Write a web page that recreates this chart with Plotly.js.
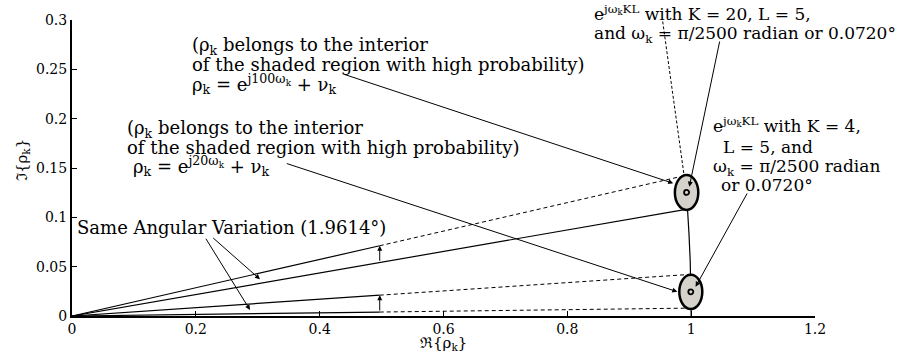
<!DOCTYPE html>
<html>
<head>
<meta charset="utf-8">
<script src="https://cdn.plot.ly/plotly-3.0.1.min.js"></script>
<style>html,body{margin:0;padding:0;background:#fff;}#chart{width:903px;height:354px;}</style>
</head>
<body>
<div id="chart"></div>
<script>
// ---- data ----
// ray end points (tangent points on the two shaded regions)
const rayEndX = [0.9999, 0.9991, 0.9941, 0.9898];
const rayEndY = [0.0080, 0.0422, 0.1084, 0.1423];
// where each ray turns from solid to dashed
const rayBreakX = [0.497, 0.497, 0.9941, 0.497];
const rayBreakY = [0.0040, 0.0211, 0.1084, 0.0712];
// unit-circle arc from (1,0) up to the upper region
const arcX = [1.0, 0.9997, 0.9985, 0.9965, 0.9941];
const arcY = [0.0, 0.0250, 0.0550, 0.0830, 0.1084];
// shaded regions (K=4 and K=20)
const regionCX = [0.9994, 0.9926];
const regionCY = [0.0245, 0.1252];
const regionHalfW = [0.0186, 0.0189];
const regionHalfH = [0.0174, 0.0177];
// angular variation arrows at x ~ 0.5
const varArrowX = [0.497, 0.497];
const varArrowFrom = [0.0040, 0.0545];
const varArrowTo = [0.0211, 0.0712];
// axis ticks
const xTicks = [0, 0.2, 0.4, 0.6, 0.8, 1, 1.2];
const xTickLabels = ['0', '0.2', '0.4', '0.6', '0.8', '1', '1.2'];
const yTicks = [0, 0.05, 0.1, 0.15, 0.2, 0.25, 0.3];
const yTickLabels = ['0', '0.05', '0.1', '0.15', '0.2', '0.25', '0.3'];

// pick the first installed serif face
function pickFont(list) {
  const ctx = document.createElement('canvas').getContext('2d');
  const s = 'abcdefghijklmnopqrstuvwxyzABCDEFGHIJ0123456789';
  for (const f of list) {
    for (const base of ['monospace', 'sans-serif']) {
      ctx.font = '40px ' + base;
      const w0 = ctx.measureText(s).width;
      ctx.font = '40px "' + f + '", ' + base;
      const w1 = ctx.measureText(s).width;
      if (Math.abs(w1 - w0) > 0.5) return f;
    }
  }
  return null;
}
const serifFace = pickFont(['DejaVu Serif', 'Liberation Serif', 'Noto Serif', 'Times New Roman', 'Tinos']);
const FONT = serifFace ? serifFace + ', serif' : 'serif';
const TXT = 17;
const TXT_L = 18;
const M = {l: 72, r: 88, t: 20, b: 38};
const PW = 903 - M.l - M.r, PH = 354 - M.t - M.b;

const traces = [];
rayEndX.forEach((ex, i) => {
  traces.push({x: [0, rayBreakX[i]], y: [0, rayBreakY[i]], mode: 'lines',
    line: {color: '#000', width: 1.2}, hoverinfo: 'skip', showlegend: false});
  if (rayBreakX[i] < ex) {
    traces.push({x: [rayBreakX[i], ex], y: [rayBreakY[i], rayEndY[i]], mode: 'lines',
      line: {color: '#000', width: 1, dash: '4px,3px'}, hoverinfo: 'skip', showlegend: false});
  }
});
traces.push({x: arcX, y: arcY, mode: 'lines', line: {color: '#000', width: 1.2},
  hoverinfo: 'skip', showlegend: false});

const shapes = [];
regionCX.forEach((cx, i) => {
  shapes.push({type: 'circle', xref: 'x', yref: 'y',
    x0: cx - regionHalfW[i], x1: cx + regionHalfW[i],
    y0: regionCY[i] - regionHalfH[i], y1: regionCY[i] + regionHalfH[i],
    fillcolor: '#d5d2cc', line: {color: '#000', width: 2.5}, layer: 'above'});
  shapes.push({type: 'circle', xref: 'x', yref: 'y', xsizemode: 'pixel', ysizemode: 'pixel',
    xanchor: cx, yanchor: regionCY[i], x0: -2.5, x1: 2.5, y0: -2.5, y1: 2.5,
    fillcolor: '#d5d2cc', line: {color: '#000', width: 1.8}, layer: 'above'});
});
shapes.push({type: 'line', xref: 'x', yref: 'y', x0: 0.954, y0: 0.2985, x1: 0.9884, y1: 0.1432,
  line: {color: '#000', width: 1, dash: '3px,2px'}, layer: 'above'});

function arrow(hx, hy, tx, ty) {
  return {x: hx, y: hy, ax: tx, ay: ty, xref: 'x', yref: 'y', axref: 'x', ayref: 'y',
    text: '', showarrow: true, arrowhead: 2, arrowsize: 1, arrowwidth: 1, arrowcolor: '#000', standoff: 0};
}
function label(txt, px, py, size, opts) {
  return Object.assign({x: (px - M.l) / PW, y: (354 - M.b - py) / PH, xref: 'paper', yref: 'paper',
    text: txt, showarrow: false, xanchor: 'left', yanchor: 'middle', align: 'left',
    font: {family: FONT, size: size, color: '#000'}}, opts || {});
}
const rk = 'ρ<sub>k</sub>';
const wk = 'ω<sub>k</sub>';
const annotations = [
  arrow(0.9710, 0.1345, 0.4377, 0.2453),
  arrow(0.9776, 0.0246, 0.3445, 0.1550),
  arrow(0.3036, 0.0372, 0.2256, 0.0804),
  arrow(0.2875, 0.0061, 0.2148, 0.0798),
  arrow(0.9970, 0.1310, 1.0465, 0.2797),
  arrow(1.0072, 0.0297, 1.0917, 0.1257),
  arrow(varArrowX[0], varArrowTo[0], varArrowX[0], varArrowFrom[0]),
  arrow(varArrowX[1], varArrowTo[1], varArrowX[1], varArrowFrom[1]),
  label('(' + rk + ' belongs to the interior', 190, 46, TXT_L),
  label('of the shaded region with high probability)', 190, 64, TXT_L),
  label(rk + ' = e<sup>j100' + wk + '</sup> + ν<sub>k</sub>', 190, 84, TXT_L),
  label('(' + rk + ' belongs to the interior', 125, 129, TXT_L),
  label('of the shaded region with high probability)', 125, 147, TXT_L),
  label(rk + ' = e<sup>j20' + wk + '</sup> + ν<sub>k</sub>', 131, 166, TXT_L),
  label('Same Angular Variation (1.9614°)', 75, 227, TXT_L),
  label('e<sup>j' + wk + 'KL</sup> with K = 20, L = 5,', 592, 13, TXT),
  label('and ' + wk + ' = π/2500 radian or 0.0720°', 592, 35, TXT),
  label('e<sup>j' + wk + 'KL</sup> with K = 4,', 711, 125, TXT),
  label('L = 5, and', 721, 147, TXT),
  label(wk + ' = π/2500 radian', 711, 167, TXT),
  label('or 0.0720°', 719, 185, TXT),
  label('ℜ{' + rk + '}', 443, 343, 15, {xanchor: 'center'}),
  label('ℑ{' + rk + '}', 22, 160, 15, {xanchor: 'center', textangle: -90})
];

const layout = {
  width: 903, height: 354,
  margin: M,
  paper_bgcolor: '#fff', plot_bgcolor: '#fff',
  font: {family: FONT, size: 14, color: '#000'},
  showlegend: false,
  xaxis: {range: [0, 1.2], tickvals: xTicks, ticktext: xTickLabels, ticks: 'inside', ticklen: 5,
    tickwidth: 1, tickcolor: '#000', showline: true, linecolor: '#000', linewidth: 1.5,
    showgrid: false, zeroline: false, fixedrange: true, tickfont: {family: FONT, size: 14, color: '#000'}},
  yaxis: {range: [0, 0.3], tickvals: yTicks, ticktext: yTickLabels, ticks: 'inside', ticklen: 5,
    tickwidth: 1, tickcolor: '#000', showline: true, linecolor: '#000', linewidth: 2,
    showgrid: false, zeroline: false, fixedrange: true, tickfont: {family: FONT, size: 14, color: '#000'}},
  shapes: shapes,
  annotations: annotations
};

Plotly.newPlot('chart', traces, layout, {staticPlot: true, displayModeBar: false});
</script>
</body>
</html>
